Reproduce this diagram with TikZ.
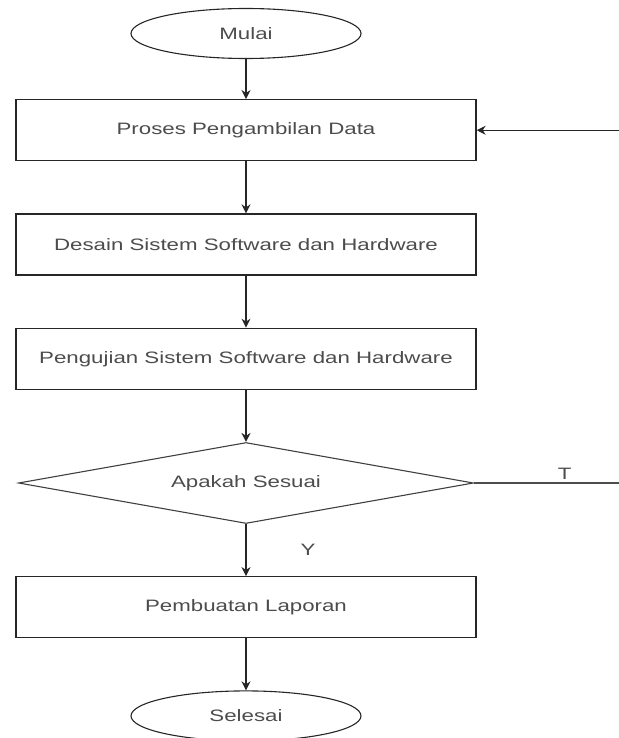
\documentclass[tikz,border=0pt]{standalone}
\usepackage{fontspec}
\newfontfamily\chartfont{Liberation Sans}[FakeStretch=1.35]
\usepackage{tikz}
\usetikzlibrary{arrows.meta,positioning,shapes.geometric}

\begin{document}
\begin{tikzpicture}[
    x=1pt, y=1pt,
    font=\chartfont\fontsize{16.5}{20}\selectfont,
    node distance=52pt,
    proc/.style={draw=black!85, line width=1.3pt, minimum width=460pt, minimum height=61pt, text=black!70},
    terminal/.style={ellipse, draw=black!85, line width=1.1pt, minimum width=230pt, minimum height=50pt, text=black!70},
    decision/.style={diamond, draw=black!75, line width=1.1pt, aspect=5.6, minimum width=455pt, minimum height=81pt, inner sep=0pt, text=black!70},
    arrow/.style={-{Stealth[length=9pt,width=9pt]}, line width=1.3pt, draw=black!85},
    plain/.style={line width=1.1pt, draw=black!70}
]
\useasboundingbox (0,0) rectangle (618,-738);
\node[terminal] (mulai) at (246,-33.5) {Mulai};
\node[proc, below=40pt of mulai] (ambil) {Proses Pengambilan Data};
\node[proc, below=of ambil] (desain) {Desain Sistem Software dan Hardware};
\node[proc, below=of desain] (uji) {Pengujian Sistem Software dan Hardware};
\node[decision, below=of uji] (cek) {Apakah Sesuai};
\node[proc, below=of cek] (lapor) {Pembuatan Laporan};
\node[terminal, below=of lapor] (selesai) {Selesai};
% ujung kanan yang terpotong
\path (ambil.east) ++(143pt,0) coordinate (balik);
\path (cek.east) ++(146pt,0) coordinate (tidak);
\draw[arrow] (mulai) -- (ambil);
\draw[arrow] (ambil) -- (desain);
\draw[arrow] (desain) -- (uji);
\draw[arrow] (uji) -- (cek);
\draw[arrow] (cek) -- node[midway, xshift=62pt, text=black!70] {Y} (lapor);
\draw[arrow] (lapor) -- (selesai);
\draw[plain] (cek.east) -- node[pos=0.62, above, text=black!70] {T} (tidak);
\draw[arrow, line width=1.1pt] (balik) -- (ambil.east);
\end{tikzpicture}
\end{document}
